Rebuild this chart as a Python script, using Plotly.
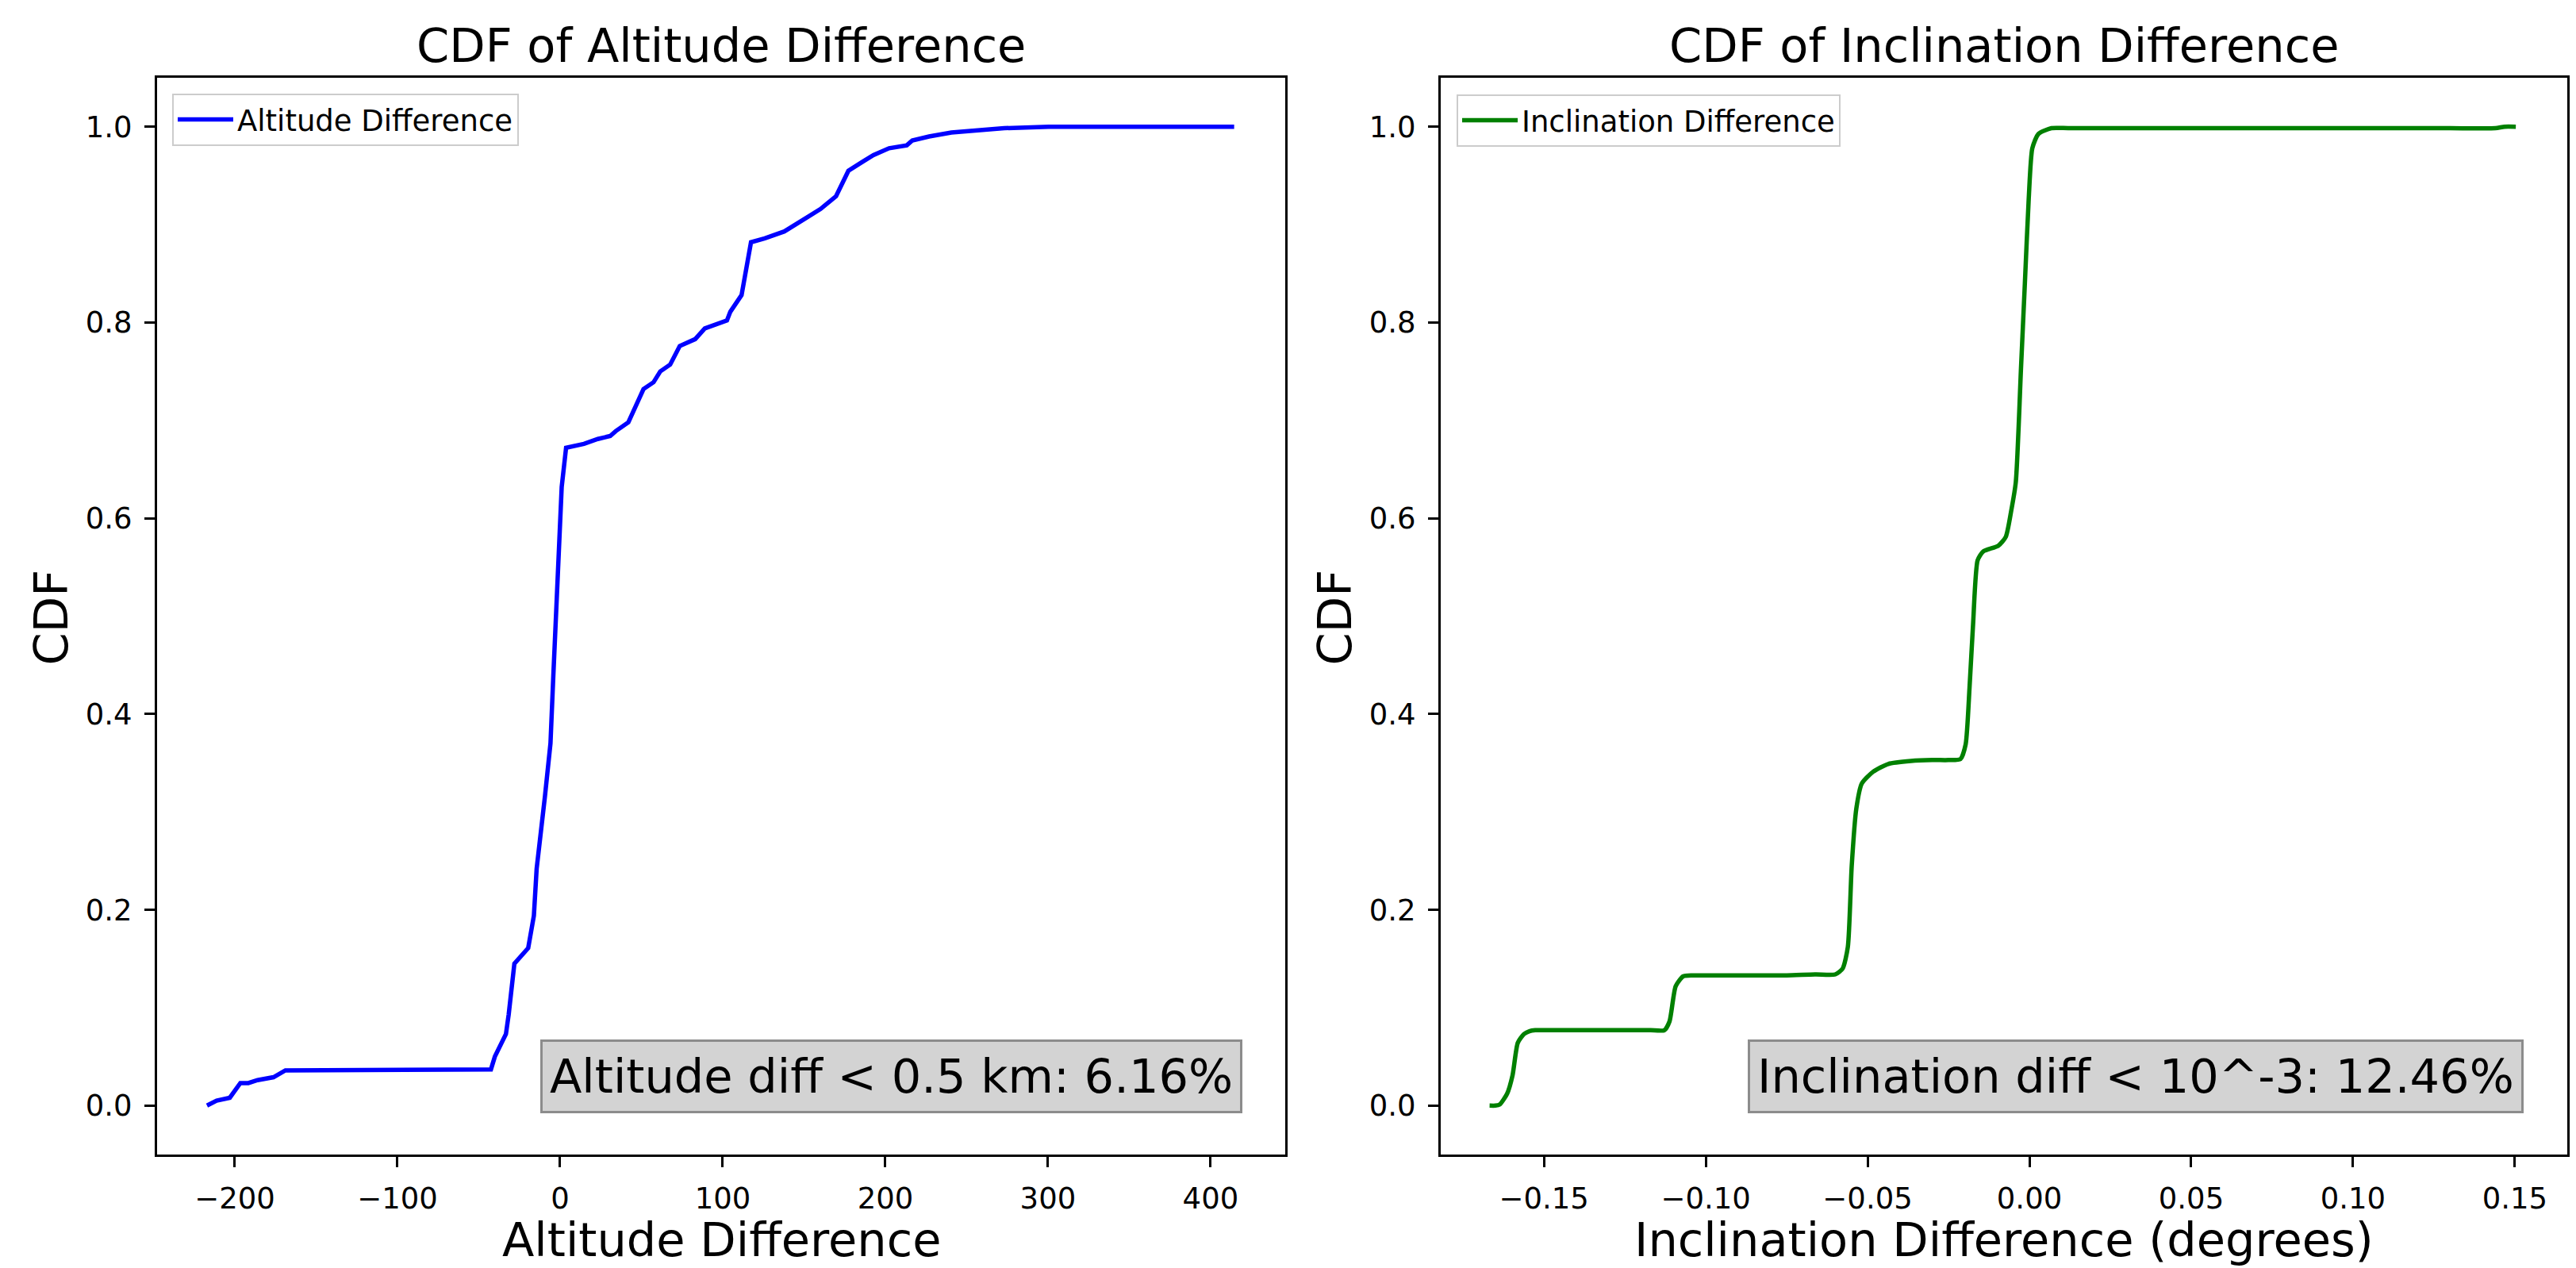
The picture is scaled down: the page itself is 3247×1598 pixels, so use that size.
import plotly.graph_objects as go

W, H = 3247, 1598

# ---- data ----
alt_x = [-217.1, -211.2, -203.1, -196.6, -191.7, -186.0, -176.2, -168.9, -42.5, -40.1,
         -33.3, -31.6, -28.1, -19.6, -16.1, -14.4, -9.3, -5.9, -4.2, -1.4, 1.0, 3.7,
         14.7, 23.2, 30.8, 34.2, 42.0, 51.3, 57.5, 61.6, 67.7, 73.6, 83.1, 89.0, 102.6,
         104.7, 111.6, 117.4, 125.9, 137.9, 144.7, 155.0, 160.2, 169.7, 177.3, 185.8,
         192.7, 202.3, 213.2, 216.6, 226.9, 240.6, 273.1, 300.5, 414.5]
alt_cdf = [0.000, 0.005, 0.008, 0.023, 0.023, 0.026, 0.029, 0.036, 0.037, 0.050,
           0.073, 0.093, 0.145, 0.161, 0.194, 0.242, 0.316, 0.370, 0.437, 0.531, 0.632, 0.672,
           0.676, 0.681, 0.684, 0.689, 0.698, 0.732, 0.739, 0.750, 0.757, 0.776, 0.783, 0.794, 0.802,
           0.811, 0.828, 0.882, 0.886, 0.893, 0.900, 0.910, 0.916, 0.929, 0.955, 0.964,
           0.971, 0.978, 0.981, 0.986, 0.990, 0.994, 0.9985, 1.000, 1.000]

inc_x = [-0.1668, -0.1650, -0.1637, -0.1614, -0.1597, -0.1581, -0.1562, -0.1545, -0.1527,
         -0.1450, -0.1350, -0.1250, -0.1170, -0.1128, -0.1112,
         -0.1093, -0.1070, -0.1040, -0.0950, -0.0850, -0.0750, -0.0660, -0.0600,
         -0.0577, -0.0561, -0.0549, -0.0535, -0.0518, -0.0483,
         -0.0436, -0.0366, -0.0300, -0.0250, -0.0213, -0.0197, -0.0185, -0.0174, -0.0160,
         -0.0143, -0.0096, -0.0073, -0.0056, -0.0042, -0.0026, -0.0014, -0.0002, 0.0009,
         0.0028, 0.0068, 0.0120, 0.0300, 0.0500, 0.0700, 0.0900, 0.1100, 0.1300,
         0.1440, 0.1468, 0.1503]
inc_cdf = [0.000, 0.000, 0.001, 0.012, 0.031, 0.064, 0.073, 0.076, 0.077,
           0.077, 0.077, 0.077, 0.077, 0.077, 0.086,
           0.122, 0.132, 0.133, 0.133, 0.133, 0.133, 0.134, 0.134,
           0.140, 0.162, 0.245, 0.303, 0.329, 0.341,
           0.349, 0.352, 0.353, 0.353, 0.354, 0.369, 0.427, 0.492, 0.557,
           0.566, 0.572, 0.581, 0.608, 0.637, 0.753, 0.840, 0.927, 0.978,
           0.9927, 0.9985, 0.9985, 0.9985, 0.9985, 0.9985, 0.9985, 0.9985, 0.9985,
           0.9985, 1.000, 1.000]

y_ticks = [0.0, 0.2, 0.4, 0.6, 0.8, 1.0]
alt_ticks = [-200, -100, 0, 100, 200, 300, 400]
inc_ticks = [-0.15, -0.10, -0.05, 0.00, 0.05, 0.10, 0.15]

titles = ["CDF of Altitude Difference", "CDF of Inclination Difference"]
xlabels = ["Altitude Difference", "Inclination Difference (degrees)"]
notes = ["Altitude diff < 0.5 km: 6.16%", "Inclination diff < 10^-3: 12.46%"]

FONT = "DejaVu Sans"

# pixel geometry of the two axes boxes
ax_px = [(190, 1612), (1808, 3228)]
top_px, bot_px = 90, 1447

def px(x):
    return x / W

def py(y):
    return 1 - y / H

fig = go.Figure()
fig.add_trace(go.Scatter(x=alt_x, y=alt_cdf, mode="lines", name="Altitude Difference",
                         line=dict(color="#0000ff", width=5.5), xaxis="x", yaxis="y",
                         legend="legend"))
fig.add_trace(go.Scatter(x=inc_x, y=inc_cdf, mode="lines", name="Inclination Difference",
                         line=dict(color="#008000", width=5.5, shape="spline", smoothing=0.6),
                         xaxis="x2", yaxis="y2", legend="legend2"))

axis_common = dict(showline=True, linecolor="black", linewidth=3, mirror=True,
                   ticks="outside", ticklen=13, tickwidth=3, tickcolor="black",
                   showgrid=False, zeroline=False, automargin=False,
                   tickfont=dict(family=FONT, size=37, color="black"))

legend_common = dict(xanchor="left", yanchor="top", bgcolor="rgba(255,255,255,0.8)",
                     bordercolor="#cccccc", borderwidth=2, itemwidth=70,
                     font=dict(family=FONT, size=37, color="black"))

fig.update_layout(
    width=W, height=H,
    margin=dict(l=0, r=0, t=0, b=0),
    paper_bgcolor="white", plot_bgcolor="white",
    font=dict(family=FONT, color="black"),
    xaxis=dict(domain=[px(ax_px[0][0]), px(ax_px[0][1])], range=[-247.8, 445.9],
               tickvals=alt_ticks, anchor="y", ticklabelstandoff=8, **axis_common),
    yaxis=dict(domain=[py(bot_px), py(top_px)], range=[-0.05, 1.05], tickvals=y_ticks,
               tickformat=".1f", anchor="x", ticklabelstandoff=8, **axis_common),
    xaxis2=dict(domain=[px(ax_px[1][0]), px(ax_px[1][1])], range=[-0.1819, 0.1662],
                tickvals=inc_ticks, tickformat=".2f", anchor="y2", ticklabelstandoff=8,
                **axis_common),
    yaxis2=dict(domain=[py(bot_px), py(top_px)], range=[-0.05, 1.05], tickvals=y_ticks,
                tickformat=".1f", anchor="x2", ticklabelstandoff=8, **axis_common),
    legend=dict(x=px(209), y=py(110), **legend_common),
    legend2=dict(x=px(1828), y=py(111), **legend_common),
    showlegend=True,
)

annotations = []
for i, (l, r) in enumerate(ax_px):
    cx = (l + r) / 2
    annotations.append(dict(text=titles[i], x=px(cx), y=py(13), xref="paper", yref="paper",
                            xanchor="center", yanchor="top", showarrow=False,
                            font=dict(family=FONT, size=59, color="black")))
    annotations.append(dict(text=xlabels[i], x=px(cx), y=py(1518), xref="paper", yref="paper",
                            xanchor="center", yanchor="top", showarrow=False,
                            font=dict(family=FONT, size=59, color="black")))
    annotations.append(dict(text="CDF", x=px(l - 134.5), y=py(770), xref="paper", yref="paper",
                            xanchor="center", yanchor="middle", showarrow=False, textangle=-90,
                            font=dict(family=FONT, size=59, color="black")))
box_right = [1558, 3173]
for i in range(2):
    annotations.append(dict(text=notes[i], x=px(box_right[i]), y=py(1395), xref="paper",
                            yref="paper", xanchor="right", yanchor="bottom", showarrow=False,
                            bgcolor="#d3d3d3", bordercolor="#8c8c8c", borderwidth=3,
                            borderpad=9, font=dict(family=FONT, size=59, color="black")))
fig.update_layout(annotations=annotations)

fig.write_html("out.html")
